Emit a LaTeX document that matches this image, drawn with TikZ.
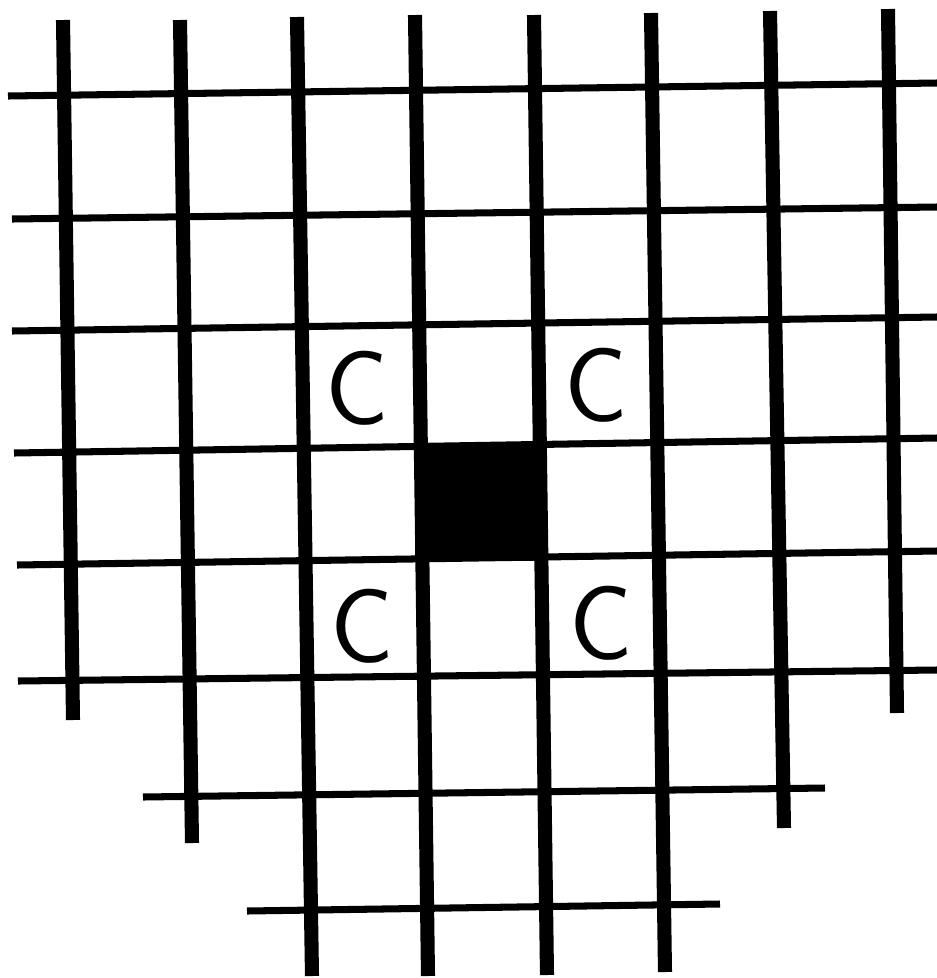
\documentclass[tikz,border=0pt]{standalone}
\usepackage{tikz}

\tikzset{
  vline/.style={line width=4pt},
  hline/.style={line width=2pt},
  lettera/.style={font=\sffamily\fontsize{30}{30}\selectfont, inner sep=0pt}
}

\begin{document}
\begin{tikzpicture}[x=0.01cm, y=-0.01cm]
	\useasboundingbox (0,0) rectangle (937,978);
	
	% Linee orizzontali
	\draw[hline] (8,96) -- (937,83);
	\draw[hline] (12,219) -- (937,207);
	\draw[hline] (12,331) -- (937,317);
	\draw[hline] (14,453) -- (937,438);
	\draw[hline] (17,565) -- (937,551);
	\draw[hline] (18,681) -- (937,670);
	\draw[hline] (143,797) -- (825,788);
	\draw[hline] (247,911) -- (720,904);
	
	% Linee verticali (spesse)
	\draw[vline] (63,20) -- (73,720);
	\draw[vline] (180,20) -- (192,843);
	\draw[vline] (297,17) -- (312,976);
	\draw[vline] (415,15) -- (428,976);
	\draw[vline] (534,15) -- (547,975);
	\draw[vline] (651,13) -- (665,972);
	\draw[vline] (770,11) -- (784,828);
	\draw[vline] (888,9) -- (897,713);
	
	% Casella centrale piena
	\fill (415,444) rectangle (547,561);
	
	% Lettere C negli angoli
	\node[lettera] (c1) at (357,388) {C};
	\node[lettera] (c2) at (596,385) {C};
	\node[lettera] (c3) at (362,626) {C};
	\node[lettera] (c4) at (601,623) {C};
\end{tikzpicture}
\end{document}
